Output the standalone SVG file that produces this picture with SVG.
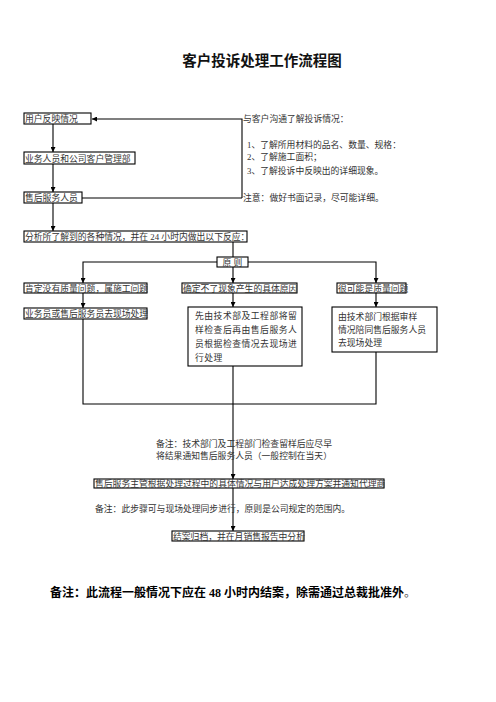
<svg xmlns="http://www.w3.org/2000/svg" width="496" height="702" viewBox="0 0 496 702">
<style>
.b{fill:#fff;stroke:#000;stroke-width:1.1}
.t{font-family:"Liberation Serif","Noto Sans CJK SC",serif;font-size:8.8px;fill:#333}
.c{stroke:#000;stroke-width:1.1;fill:none}
</style>
<defs>
<marker id="a" viewBox="0 0 10 10" refX="10" refY="5" markerWidth="5" markerHeight="5" markerUnits="userSpaceOnUse" orient="auto">
<path d="M0,0 L10,5 L0,10 z" fill="#000"/>
</marker>
</defs>
<rect width="496" height="702" fill="#fff"/>
<text x="262" y="66" text-anchor="middle" style="font-family:'Liberation Serif','Noto Sans CJK SC',serif;font-size:14.5px;font-weight:bold;fill:#111">客户投诉处理工作流程图</text>

<g id="connectors">
<path class="c" d="M242,198 V119 H92" marker-end="url(#a)"/>
<path class="c" d="M82,198 H242"/>
<path class="c" d="M53,124 V152" marker-end="url(#a)"/>
<path class="c" d="M53,164 V192" marker-end="url(#a)"/>
<path class="c" d="M53,203 V231" marker-end="url(#a)"/>
<path class="c" d="M233,242 V257"/>
<path class="c" d="M217,262 H83 V283" marker-end="url(#a)"/>
<path class="c" d="M248,262 H376 V283" marker-end="url(#a)"/>
<path class="c" d="M233,267 V283" marker-end="url(#a)"/>
<path class="c" d="M83,293 V308" marker-end="url(#a)"/>
<path class="c" d="M233,293 V307" marker-end="url(#a)"/>
<path class="c" d="M376,293 V307" marker-end="url(#a)"/>
<path class="c" d="M83,319 V404 H376 V352"/>
<path class="c" d="M233,366 V479" marker-end="url(#a)"/>
<path class="c" d="M233,488 V531" marker-end="url(#a)"/>
</g>

<g id="n1"><rect class="b" x="24" y="113" width="67" height="11"/><text class="t" x="25" y="122">用户反映情况</text></g>
<g id="n2"><rect class="b" x="24" y="152" width="111" height="12"/><text class="t" x="25" y="161.5">业务人员和公司客户管理部</text></g>
<g id="n3"><rect class="b" x="24" y="192" width="58" height="11"/><text class="t" x="25" y="201">售后服务人员</text></g>
<g id="notes1">
<text class="t" x="243" y="122">与客户沟通了解投诉情况：</text>
<text class="t" x="247" y="148">1、了解所用材料的品名、数量、规格：</text>
<text class="t" x="247" y="160">2、了解施工面积；</text>
<text class="t" x="247" y="174">3、了解投诉中反映出的详细现象。</text>
<text class="t" x="243" y="201">注意：做好书面记录，尽可能详细。</text>
</g>
<g id="n4"><rect class="b" x="24" y="231" width="223" height="11"/><text class="t" x="25" y="240">分析所了解到的各种情况，并在 24 小时内做出以下反应：</text></g>
<g id="n5"><rect class="b" x="217" y="257" width="31" height="10"/><text class="t" x="232.5" y="265.5" text-anchor="middle">原  则</text></g>
<g id="n6"><rect class="b" x="24" y="283" width="123" height="10"/><text class="t" x="25" y="291.5">肯定没有质量问题，属施工问题</text></g>
<g id="n7"><rect class="b" x="182" y="283" width="115" height="10"/><text class="t" x="183" y="291.5">确定不了现象产生的具体原因</text></g>
<g id="n8"><rect class="b" x="337" y="283" width="69" height="10"/><text class="t" x="338" y="291.5">很可能是质量问题</text></g>
<g id="n9"><rect class="b" x="24" y="308" width="123" height="11"/><text class="t" x="25" y="317">业务员或售后服务员去现场处理</text></g>
<g id="n10"><rect class="b" x="188" y="307" width="114" height="59"/>
<text class="t" x="195" y="319" style="letter-spacing:0.5px">先由技术部及工程部将留</text>
<text class="t" x="195" y="333" style="letter-spacing:0.5px">样检查后再由售后服务人</text>
<text class="t" x="195" y="347" style="letter-spacing:0.5px">员根据检查情况去现场进</text>
<text class="t" x="195" y="361" style="letter-spacing:0.5px">行处理</text>
</g>
<g id="n11"><rect class="b" x="332" y="307" width="105" height="45"/>
<text class="t" x="338" y="320">由技术部门根据审样</text>
<text class="t" x="338" y="333">情况陪同售后服务人员</text>
<text class="t" x="338" y="346">去现场处理</text>
</g>
<g id="notes2">
<text class="t" x="156" y="447">备注：技术部门及工程部门检查留样后应尽早</text>
<text class="t" x="156" y="459">将结果通知售后服务人员（一般控制在当天）</text>
</g>
<g id="n12"><rect class="b" x="94" y="479" width="290" height="9"/><text class="t" x="95" y="487">售后服务主管根据处理过程中的具体情况与用户达成处理方案并通知代理商</text></g>
<text class="t" x="95" y="512">备注：此步骤可与现场处理同步进行，原则是公司规定的范围内。</text>
<g id="n13"><rect class="b" x="172" y="531" width="132" height="10"/><text class="t" x="173" y="539.5">结案归档，并在月销售报告中分析</text></g>
<text x="50" y="597" style="font-family:'Liberation Serif','Noto Sans CJK SC',serif;font-size:12px;font-weight:bold;fill:#000">备注：此流程一般情况下应在 48 小时内结案，除需通过总裁批准外<tspan style="font-weight:normal;fill:#555">。</tspan></text>
</svg>
